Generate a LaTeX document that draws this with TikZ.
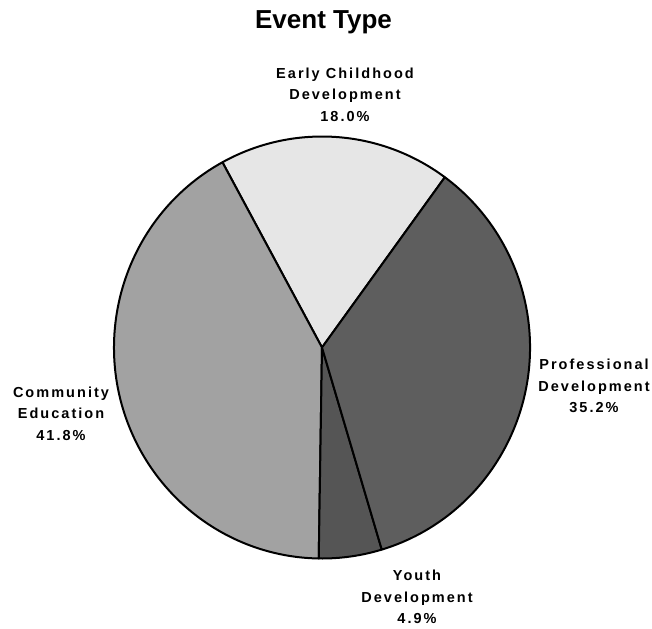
\documentclass[tikz,border=0pt]{standalone}
\usepackage{fontspec}
\setmainfont{Liberation Sans}
\newfontfamily\labfont[LetterSpace=14]{Liberation Sans Bold}
\definecolor{ecdfill}{HTML}{E6E6E6}
\definecolor{cefill}{HTML}{A2A2A2}
\definecolor{pdfill}{HTML}{5E5E5E}
\definecolor{ydfill}{HTML}{555555}
\tikzset{
  slice/.style={draw=black, line width=2pt, line join=round},
  lab/.style={font=\labfont\fontsize{14.5}{21.5}\selectfont, align=center, inner sep=0pt, anchor=north},
  ttl/.style={font=\bfseries\fontsize{26}{30}\selectfont, inner sep=0pt, anchor=base}
}
\begin{document}
\begin{tikzpicture}[x=1pt,y=-1pt]
\useasboundingbox (0,0) rectangle (652,628);
\fill[white] (0,0) rectangle (652,628);
\node[ttl] (title) at (323.5,29) {Event Type};
\begin{scope}[shift={(322,347.5)}, yscale=-1]
  \coordinate (c) at (0,0);
  \filldraw[slice, fill=ecdfill] (c) -- (53.8:208 and 211) arc[start angle=53.8, end angle=118.6, x radius=208, y radius=211] -- cycle;
  \filldraw[slice, fill=cefill] (c) -- (118.6:208 and 211) arc[start angle=118.6, end angle=269.1, x radius=208, y radius=211] -- cycle;
  \filldraw[slice, fill=ydfill] (c) -- (269.1:208 and 211) arc[start angle=269.1, end angle=286.7, x radius=208, y radius=211] -- cycle;
  \filldraw[slice, fill=pdfill] (c) -- (286.7:208 and 211) arc[start angle=286.7, end angle=413.8, x radius=208, y radius=211] -- cycle;
\end{scope}
\node[lab] (ecd) at (345,67.5) {Early Childhood\\Development\\18.0\%};
\node[lab] (ce) at (61,386.5) {Community\\Education\\41.8\%};
\node[lab] (pd) at (594,358.8) {Professional\\Development\\35.2\%};
\node[lab] (yd) at (417,570) {Youth\\Development\\4.9\%};
\end{tikzpicture}
\end{document}
